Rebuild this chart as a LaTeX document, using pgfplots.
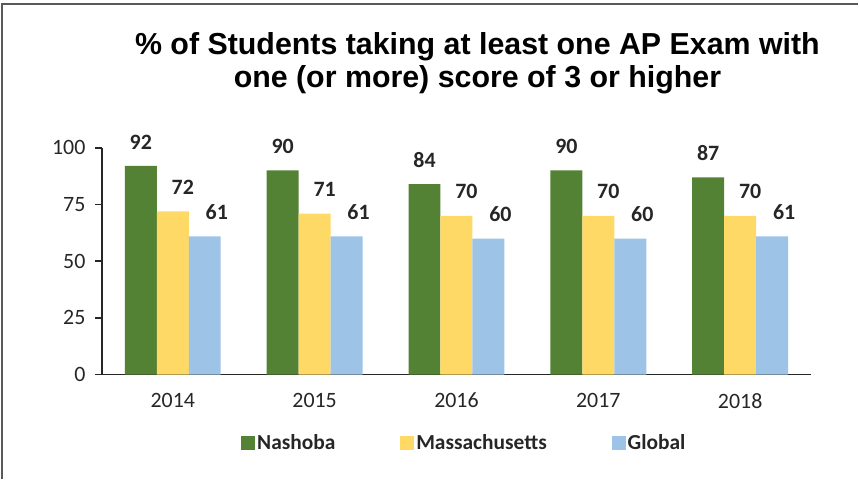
\documentclass[border=0pt]{standalone}
\usepackage{pgfplots}
\pgfplotsset{compat=1.18}
\usepackage{fontspec}
\setmainfont{Carlito}
\newfontfamily\titlefont{Liberation Sans}
\definecolor{nash}{HTML}{548235}
\definecolor{mass}{HTML}{FFD966}
\definecolor{glob}{HTML}{9DC3E6}
\definecolor{axisgray}{HTML}{262626}

\begin{document}
\begin{tikzpicture}
% page size and frame
\path (0,0) rectangle (859bp,480bp);
\draw[line width=2bp,gray!70!black] (2bp,0) -- (2bp,476bp) -- (859bp,476bp);
\node[font=\titlefont\bfseries\fontsize{30.5}{33}\selectfont,align=center,text=black]
  at (478bp,417bp) {\% of Students taking at least one AP Exam with\\one (or more) score of 3 or higher};

\begin{axis}[
  at={(102bp,105bp)},anchor=south west,
  scale only axis,width=710bp,height=227bp,
  /pgf/number format/assume math mode=true,
  ybar=0pt,bar width=32bp,
  xmin=-0.5,xmax=4.5,ymin=0,ymax=100,
  axis x line*=bottom,axis y line*=left,
  axis line style={axisgray,line width=1.4bp,-},
  xtick={0,...,4},xticklabels={2014,2015,2016,2017,2018},
  xtick style={draw=none},
  minor xtick={-0.5,0.5,...,4.5},
  minor tick length=8bp,
  minor x tick style={axisgray,line width=1.4bp},
  ytick={0,25,...,100},
  major tick length=7bp,
  y tick style={axisgray,line width=1.4bp},
  tick align=outside,
  tick label style={font=\fontsize{22}{24}\selectfont,text=black!85},
  xticklabel style={yshift=-8bp},
  yticklabel style={xshift=-6bp},
  nodes near coords,
  every node near coord/.append style={font=\bfseries\fontsize{22}{24}\selectfont,
    text=black!85,anchor=center,yshift=24bp},
  legend style={at={(0.511,-0.30)},anchor=center,draw=none,fill=none,
    font=\bfseries\fontsize{21.5}{24}\selectfont,text=black!85,legend columns=3,
    /tikz/every even column/.append style={column sep=63bp}},
  legend image code/.code={\fill[#1] (0bp,-7bp) rectangle (14bp,7bp);},
]
\addplot[fill=nash,draw=none] coordinates {(0,92) (1,90) (2,84) (3,90) (4,87)};
\addplot[fill=mass,draw=none,every node near coord/.append style={xshift=10bp}]
  coordinates {(0,72) (1,71) (2,70) (3,70) (4,70)};
\addplot[fill=glob,draw=none,every node near coord/.append style={xshift=12bp}]
  coordinates {(0,61) (1,61) (2,60) (3,60) (4,61)};
\legend{Nashoba,Massachusetts,Global}
\end{axis}
\end{tikzpicture}
\end{document}
